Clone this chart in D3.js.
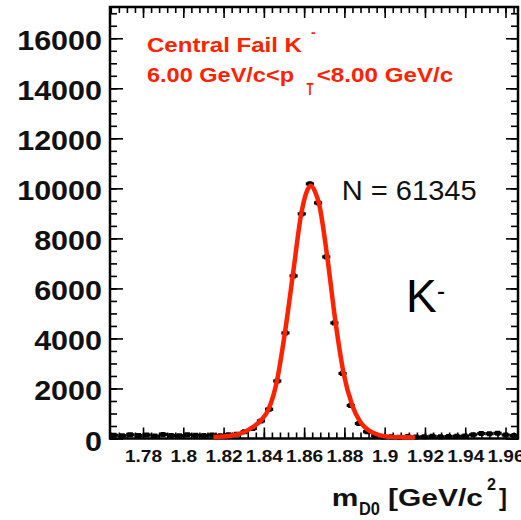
<!DOCTYPE html>
<html>
<head>
<meta charset="utf-8">
<script src="https://cdn.jsdelivr.net/npm/d3@7"></script>
<style>
  body { margin: 0; background: #fff; }
  text { font-family: "Liberation Sans", Arial, Helvetica, sans-serif; }
</style>
</head>
<body>
<div id="chart"></div>
<script>
// Canvas and frame
const width = 521;
const height = 520;
const frame = { left: 110, right: 518, top: 7, bottom: 438.5 };

// Histogram: mass range and counts per bin (50 bins)
const massRange = [1.7636, 1.9662];
const binCounts = [
  130, 110, 150, 120, 140, 100, 160, 120, 110, 150,
  130, 120, 140, 110, 150, 170, 270, 400, 700, 1170,
  2300, 4220, 6500, 8980, 10180, 9420, 7260, 4620, 2600, 1320,
  600, 270, 110, 60, 70, 50, 80, 60, 70, 90,
  70, 80, 90, 100, 150, 200, 190, 210, 140, 120
];

// Fit curve
const fitMass = [1.815, 1.820, 1.825, 1.830, 1.834, 1.8385, 1.8425, 1.8465, 1.8505, 1.8545,
  1.8585, 1.8610, 1.8633, 1.8655, 1.8675, 1.8715, 1.8755, 1.8795, 1.8840, 1.8880,
  1.8920, 1.8960, 1.9000, 1.9050, 1.9100, 1.9150];
const fitCounts = [60, 80, 130, 250, 430, 720, 1200, 2300, 4250, 6600,
  8950, 9800, 10100, 9850, 9350, 7250, 4700, 2650, 1300, 650,
  330, 170, 90, 55, 45, 40];

// Axes
const xTicks = [1.78, 1.80, 1.82, 1.84, 1.86, 1.88, 1.90, 1.92, 1.94, 1.96];
const xTickLabels = ["1.78", "1.8", "1.82", "1.84", "1.86", "1.88", "1.9", "1.92", "1.94", "1.96"];
const yTicks = [0, 2000, 4000, 6000, 8000, 10000, 12000, 14000, 16000];
const yTickLabels = ["0", "2000", "4000", "6000", "8000", "10000", "12000", "14000", "16000"];
const yMax = 17250;

const red = "#ff2200";

const svg = d3.select("#chart")
  .append("svg")
  .attr("width", width)
  .attr("height", height);

const x = d3.scaleLinear().domain(massRange).range([frame.left, frame.right]);
const y = d3.scaleLinear().domain([0, yMax]).range([frame.bottom, frame.top]);

// minor tick positions (every 0.004 in x, every 500 in y)
const xMinor = d3.range(0, 52).map(k => 1.764 + k * 0.004)
  .filter(v => v >= massRange[0] && v <= massRange[1]);
const yMinor = d3.range(0, 35).map(k => k * 500).filter(v => v <= yMax);

// stretch text horizontally (ROOT fonts are wider than Arial)
function stretch(sel, k) {
  sel.each(function () {
    const w = this.getComputedTextLength();
    d3.select(this).attr("textLength", w * k).attr("lengthAdjust", "spacingAndGlyphs");
  });
}

function tickGroup(axis, tx, ty) {
  const g = svg.append("g").attr("transform", `translate(${tx},${ty})`).call(axis);
  g.select(".domain").remove();
  g.selectAll(".tick line").attr("stroke", "#000").attr("stroke-width", 1.6);
  return g;
}

// bottom axis
const xAxisG = tickGroup(d3.axisBottom(x).tickValues(xTicks)
  .tickFormat((d, i) => xTickLabels[i]).tickSize(-11).tickPadding(11.5), 0, frame.bottom);
xAxisG.selectAll("text")
  .attr("font-size", 17).attr("font-weight", "bold").attr("fill", "#111");
stretch(xAxisG.selectAll("text"), 1.12);
tickGroup(d3.axisBottom(x).tickValues(xMinor).tickFormat("").tickSize(-6), 0, frame.bottom);

// top axis
tickGroup(d3.axisTop(x).tickValues(xTicks).tickFormat("").tickSize(-11), 0, frame.top);
tickGroup(d3.axisTop(x).tickValues(xMinor).tickFormat("").tickSize(-6), 0, frame.top);

// left axis
const yAxisG = tickGroup(d3.axisLeft(y).tickValues(yTicks)
  .tickFormat((d, i) => yTickLabels[i]).tickSize(-13).tickPadding(8), frame.left, 0);
yAxisG.selectAll("text")
  .attr("font-size", 27).attr("font-weight", "bold").attr("fill", "#111")
  .attr("dy", 11.5);
stretch(yAxisG.selectAll("text"), 1.13);
tickGroup(d3.axisLeft(y).tickValues(yMinor).tickFormat("").tickSize(-7), frame.left, 0);

// right axis
tickGroup(d3.axisRight(y).tickValues(yTicks).tickFormat("").tickSize(-12), frame.right, 0);
tickGroup(d3.axisRight(y).tickValues(yMinor).tickFormat("").tickSize(-7), frame.right, 0);

// frame
svg.append("rect")
  .attr("x", frame.left).attr("y", frame.top)
  .attr("width", frame.right - frame.left).attr("height", frame.bottom - frame.top)
  .attr("fill", "none").attr("stroke", "#000").attr("stroke-width", 2.5);

// histogram points with error bars
const binWidth = (massRange[1] - massRange[0]) / binCounts.length;
const bins = binCounts.map((c, i) => ({
  lo: massRange[0] + i * binWidth,
  hi: massRange[0] + (i + 1) * binWidth,
  mid: massRange[0] + (i + 0.5) * binWidth,
  count: c
}));

const pts = svg.append("g").attr("class", "points");
pts.selectAll("line.h")
  .data(bins).enter().append("line")
  .attr("class", "h")
  .attr("x1", d => x(d.lo)).attr("x2", d => x(d.hi))
  .attr("y1", d => y(d.count)).attr("y2", d => y(d.count))
  .attr("stroke", "#000").attr("stroke-width", 3.2);
pts.selectAll("line.v")
  .data(bins).enter().append("line")
  .attr("class", "v")
  .attr("x1", d => x(d.mid)).attr("x2", d => x(d.mid))
  .attr("y1", d => y(d.count + Math.sqrt(d.count))).attr("y2", d => y(d.count - Math.sqrt(d.count)))
  .attr("stroke", "#000").attr("stroke-width", 2);
pts.selectAll("rect")
  .data(bins).enter().append("rect")
  .attr("x", d => x(d.mid) - 2.5).attr("y", d => y(d.count) - 2.5)
  .attr("width", 5).attr("height", 5)
  .attr("fill", "#000");

// fit curve
const fitPoints = fitMass.map((m, i) => [m, fitCounts[i]]);
svg.append("path")
  .datum(fitPoints)
  .attr("fill", "none")
  .attr("stroke", red)
  .attr("stroke-width", 4.5)
  .attr("stroke-linejoin", "round")
  .attr("d", d3.line().x(d => x(d[0])).y(d => y(d[1])).curve(d3.curveMonotoneX));

// labels
const lab = svg.append("g");

function addText(txt, px, py, size, opts = {}) {
  const t = lab.append("text")
    .attr("x", px).attr("y", py)
    .attr("font-size", size)
    .attr("font-weight", opts.bold ? "bold" : "normal")
    .attr("fill", opts.color || "#000")
    .text(txt);
  if (opts.len) t.attr("textLength", opts.len).attr("lengthAdjust", "spacingAndGlyphs");
  return t;
}

addText("Central Fail K", 147, 51.7, 21, { bold: true, color: red, len: 155 });
addText("-", 311, 37, 14, { bold: true, color: red });
addText("6.00 GeV/c<p", 147, 81.7, 21, { bold: true, color: red, len: 147 });
addText("T", 306.5, 95, 16, { bold: true, color: red, len: 7 });
addText("<8.00 GeV/c", 316.7, 81.7, 21, { bold: true, color: red, len: 136.6 });

addText("N = 61345", 341.7, 199.5, 27, { color: "#111", len: 135 });
addText("K", 406, 312, 46, { color: "#000" });
addText("-", 437, 299.5, 28, { color: "#000", len: 8 });

addText("m", 331.7, 506, 24.5, { bold: true, color: "#111", len: 26.6 });
addText("D0", 359, 515, 18, { bold: true, color: "#111", len: 21 });
addText("[GeV/c", 388, 506, 24.5, { bold: true, color: "#111", len: 95 });
addText("2", 487, 490, 17, { bold: true, color: "#111", len: 9 });
addText("]", 499, 506, 24.5, { bold: true, color: "#111", len: 8 });
</script>
</body>
</html>
